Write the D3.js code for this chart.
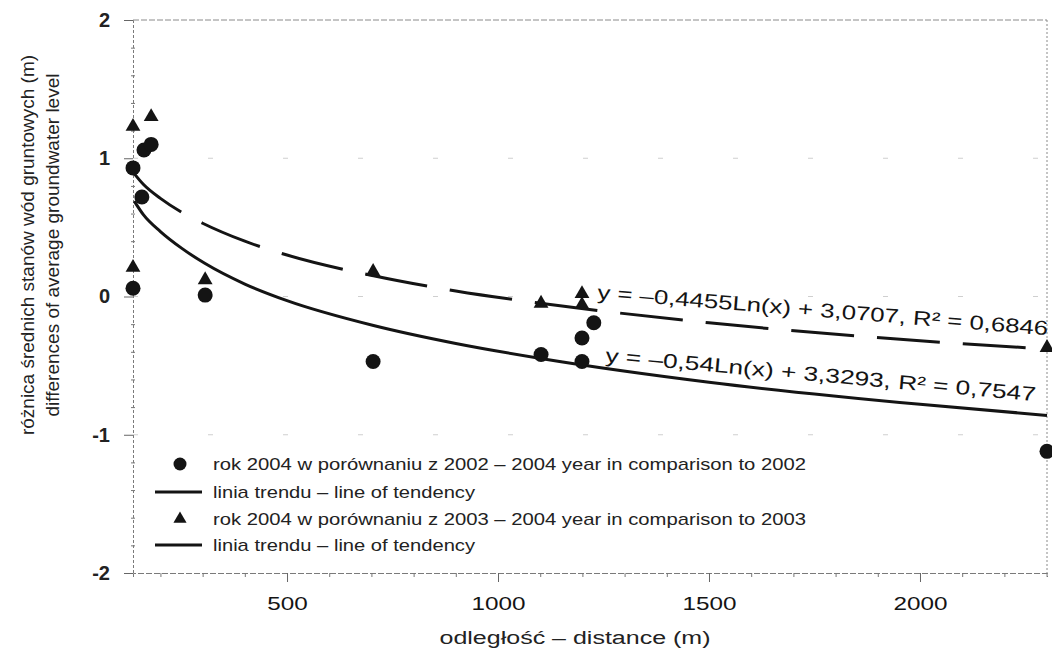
<!DOCTYPE html>
<html>
<head>
<meta charset="utf-8">
<script src="https://cdn.jsdelivr.net/npm/d3@7"></script>
<style>
  body { margin: 0; background: #fff; }
  svg { display: block; font-family: "Liberation Sans", Arial, sans-serif; }
</style>
</head>
<body>
<div id="chart"></div>
<script>
// Ground water level difference vs distance

// circles: 2004 vs 2002
const circDist = [135, 135, 156, 161, 178, 306, 704, 1102, 1199, 1199, 1227, 2301];
const circVal  = [0.06, 0.93, 0.72, 1.06, 1.10, 0.01, -0.47, -0.42, -0.47, -0.30, -0.19, -1.12];

// triangles: 2004 vs 2003
const triDist = [135, 178, 135, 306, 704, 1102, 1199, 1199, 2301];
const triVal  = [1.23, 1.30, 0.21, 0.12, 0.18, -0.05, 0.02, -0.06, -0.37];

// trend lines
const solidDist = [138, 160, 200, 250, 305, 400, 500, 705, 900, 1105, 1500, 2000, 2301];
const solidVal  = [0.69, 0.59, 0.47, 0.35, 0.24, 0.09, -0.03, -0.21, -0.34, -0.45, -0.62, -0.78, -0.86];
const dashDist  = [135, 160, 200, 250, 300, 400, 500, 705, 900, 1105, 1500, 2000, 2301];
const dashVal   = [0.90, 0.81, 0.71, 0.61, 0.53, 0.40, 0.30, 0.15, 0.04, -0.05, -0.19, -0.32, -0.38];

const xTicks = [500, 1000, 1500, 2000];
const yTicks = [-2, -1, 0, 1, 2];

const eqDashed = 'y = –0,4455Ln(x) + 3,0707,  R² = 0,6846';
const eqSolid  = 'y = –0,54Ln(x) + 3,3293,  R² = 0,7547';
const legendLabels = [
  'rok 2004 w porównaniu z 2002 – 2004 year in comparison to 2002',
  'linia trendu – line of tendency',
  'rok 2004 w porównaniu z 2003 – 2004 year in comparison to 2003',
  'linia trendu – line of tendency'
];

const width = 1052, height = 651;
const margin = {top: 20, right: 5, bottom: 78, left: 133};
const ink = '#141414';

const x = d3.scaleLinear()
    .domain([135, 2301])
    .range([margin.left, width - margin.right]);

const y = d3.scaleLinear()
    .domain([-2, 2])
    .range([height - margin.bottom, margin.top]);

const svg = d3.select('#chart').append('svg')
    .attr('width', width)
    .attr('height', height);

svg.append('rect').attr('width', width).attr('height', height).attr('fill', '#fff');

// faint grid remains
svg.append('g')
   .selectAll('line')
   .data([1, 0, -1])
   .join('line')
     .attr('x1', x.range()[0]).attr('x2', x.range()[1])
     .attr('y1', d => y(d)).attr('y2', d => y(d))
     .attr('stroke', '#cfcfcf')
     .attr('stroke-dasharray', '5,70');

// frame (top and right)
svg.append('line')
   .attr('x1', x.range()[0]).attr('x2', x.range()[1])
   .attr('y1', y(2)).attr('y2', y(2))
   .attr('stroke', '#8a8a8a').attr('stroke-dasharray', '6,2');
svg.append('line')
   .attr('x1', x.range()[1]).attr('x2', x.range()[1])
   .attr('y1', y(2)).attr('y2', y(-2))
   .attr('stroke', '#8a8a8a').attr('stroke-dasharray', '2,2');

// x axis: minor ticks every 100, major every 500
const xAxisMinor = d3.axisBottom(x)
    .tickValues(d3.range(200, 2301, 100).filter(v => v % 500 !== 0))
    .tickSize(4).tickFormat('');
svg.append('g')
   .attr('transform', `translate(0,${y(-2)})`)
   .call(xAxisMinor)
   .call(g => g.select('.domain').attr('stroke', '#7a7a7a').attr('stroke-dasharray', '6,2'))
   .call(g => g.selectAll('.tick line').attr('stroke', '#777'));

const xAxis = d3.axisBottom(x)
    .tickValues(xTicks)
    .tickSize(9).tickPadding(15)
    .tickFormat(d => String(d));
svg.append('g')
   .attr('transform', `translate(0,${y(-2)})`)
   .call(xAxis)
   .call(g => g.select('.domain').remove())
   .call(g => g.selectAll('.tick line').attr('stroke', '#666'))
   .call(g => g.selectAll('.tick text')
       .attr('font-size', 18)
       .attr('fill', ink)
       .attr('textLength', d => String(d).length * 13.5)
       .attr('lengthAdjust', 'spacingAndGlyphs'));

// y axis: minor every 0.2
const yAxisMinor = d3.axisLeft(y)
    .tickValues(d3.range(-1.8, 2, 0.2).filter(v => Math.abs(v - Math.round(v)) > 0.01))
    .tickSize(4).tickFormat('');
svg.append('g')
   .attr('transform', `translate(${margin.left + 2},0)`)
   .call(yAxisMinor)
   .call(g => g.select('.domain').remove())
   .call(g => g.selectAll('.tick line').attr('stroke', '#777'));

const yAxis = d3.axisLeft(y)
    .tickValues(yTicks)
    .tickSize(9).tickPadding(14)
    .tickFormat(d => String(d));
svg.append('g')
   .attr('transform', `translate(${margin.left},0)`)
   .call(yAxis)
   .call(g => g.select('.domain').attr('stroke', '#7a7a7a').attr('stroke-dasharray', '3,2'))
   .call(g => g.selectAll('.tick line').attr('stroke', '#666'))
   .call(g => g.selectAll('.tick text')
       .attr('font-size', 20)
       .attr('font-weight', 'bold')
       .attr('fill', '#222'));

// trend lines
const line = d3.line()
    .curve(d3.curveMonotoneX)
    .x(d => x(d[0]))
    .y(d => y(d[1]));

svg.append('path')
   .datum(solidDist.map((d, i) => [d, solidVal[i]]))
   .attr('fill', 'none')
   .attr('stroke', ink)
   .attr('stroke-width', 3)
   .attr('d', line);

svg.append('path')
   .datum(dashDist.map((d, i) => [d, dashVal[i]]))
   .attr('fill', 'none')
   .attr('stroke', ink)
   .attr('stroke-width', 3)
   .attr('stroke-dasharray', '63,23')
   .attr('d', line);

// markers
svg.append('g')
   .selectAll('circle')
   .data(circDist.map((d, i) => [d, circVal[i]]))
   .join('circle')
     .attr('cx', d => x(d[0]))
     .attr('cy', d => y(d[1]))
     .attr('r', 7.5)
     .attr('fill', ink);

const tri = d3.symbol().type(d3.symbolTriangle).size(95);
svg.append('g')
   .selectAll('path')
   .data(triDist.map((d, i) => [d, triVal[i]]))
   .join('path')
     .attr('transform', d => `translate(${x(d[0])},${y(d[1])})`)
     .attr('d', tri)
     .attr('fill', ink);

// equations (slightly slanted like the scan)
svg.append('text')
   .attr('transform', 'translate(597,299) rotate(4.6)')
   .attr('font-size', 20)
   .attr('fill', ink)
   .attr('textLength', 452)
   .attr('lengthAdjust', 'spacingAndGlyphs')
   .text(eqDashed);

svg.append('text')
   .attr('transform', 'translate(605,362) rotate(5.2)')
   .attr('font-size', 20)
   .attr('fill', ink)
   .attr('textLength', 432)
   .attr('lengthAdjust', 'spacingAndGlyphs')
   .text(eqSolid);

// legend
const legend = svg.append('g').attr('class', 'legend');
const rowY = [464, 492, 519, 545];
legend.append('circle').attr('cx', 180).attr('cy', rowY[0]).attr('r', 6.5).attr('fill', ink);
legend.append('path')
   .attr('transform', `translate(180,${rowY[2]})`)
   .attr('d', d3.symbol().type(d3.symbolTriangle).size(75))
   .attr('fill', ink);
[1, 3].forEach(i => {
  legend.append('line')
     .attr('x1', 155).attr('x2', 202)
     .attr('y1', rowY[i]).attr('y2', rowY[i])
     .attr('stroke', ink).attr('stroke-width', 3);
});
legend.selectAll('text')
   .data(legendLabels)
   .join('text')
     .attr('x', 213)
     .attr('y', (d, i) => rowY[i] + 6)
     .attr('font-size', 17)
     .attr('fill', '#222')
     .attr('textLength', (d, i) => i % 2 ? 262 : 593)
     .attr('lengthAdjust', 'spacingAndGlyphs')
     .text(d => d);

// axis titles
svg.append('text')
   .attr('x', 575)
   .attr('y', 644)
   .attr('text-anchor', 'middle')
   .attr('font-size', 18)
   .attr('fill', '#222')
   .attr('textLength', 271)
   .attr('lengthAdjust', 'spacingAndGlyphs')
   .text('odległość – distance (m)');

const yTitleLines = [
  'różnica średnich stanów wód gruntowych (m)',
  'differences of average groundwater level'
];
svg.append('g')
   .selectAll('text')
   .data(yTitleLines)
   .join('text')
     .attr('transform', (d, i) => `translate(${i ? 59 : 34},245) rotate(-90)`)
     .attr('text-anchor', 'middle')
     .attr('font-size', 19)
     .attr('fill', '#222')
     .text(d => d);
</script>
</body>
</html>
